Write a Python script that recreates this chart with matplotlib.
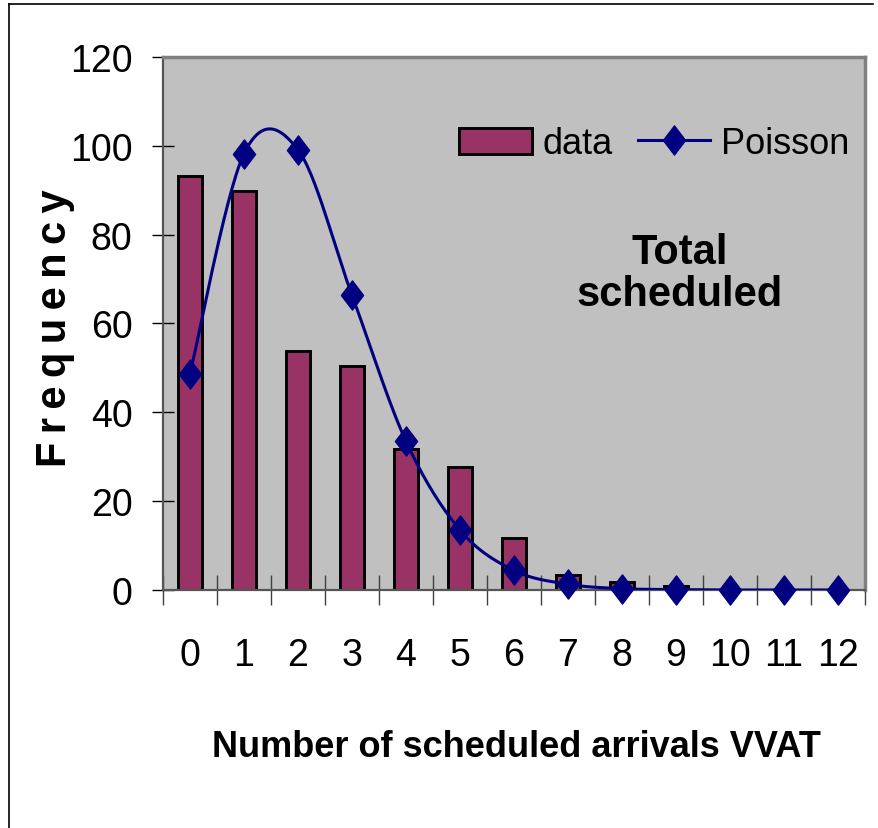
import matplotlib
matplotlib.use('Agg')

import matplotlib.pyplot as plt
import numpy as np
from matplotlib.lines import Line2D
from matplotlib.path import Path

# arrivals per interval, observed counts and fitted Poisson frequencies
arrivals = list(range(13))
data_freq = [93.3, 89.8, 53.8, 50.4, 31.8, 27.6, 11.7, 3.3, 1.8, 0.9, 0, 0, 0]
poisson_freq = [48.6, 98.2, 99.1, 66.4, 33.5, 13.5, 4.4, 1.3, 0.3, 0.1, 0, 0, 0]
y_ticks = [0, 20, 40, 60, 80, 100, 120]

NARROW = ['Liberation Sans Narrow', 'Liberation Sans', 'DejaVu Sans']
WIDE = ['Liberation Sans', 'DejaVu Sans']

BAR = '#993366'
LINE = '#000080'


def smooth(xs, ys, n=30):
    # piecewise cubic bezier through the points (catmull-rom style)
    xs = np.asarray(xs, float)
    ys = np.asarray(ys, float)
    px = np.concatenate([[xs[0]], xs, [xs[-1]]])
    py = np.concatenate([[ys[0]], ys, [ys[-1]]])
    outx, outy = [], []
    t = np.linspace(0, 1, n)
    for i in range(1, len(px) - 2):
        p0 = np.array([px[i], py[i]])
        p3 = np.array([px[i + 1], py[i + 1]])
        c1 = p0 + (np.array([px[i + 1], py[i + 1]]) - np.array([px[i - 1], py[i - 1]])) / 6
        c2 = p3 - (np.array([px[i + 2], py[i + 2]]) - np.array([px[i], py[i]])) / 6
        b = ((1 - t) ** 3)[:, None] * p0 + (3 * (1 - t) ** 2 * t)[:, None] * c1 \
            + (3 * (1 - t) * t ** 2)[:, None] * c2 + (t ** 3)[:, None] * p3
        outx.extend(b[:, 0])
        outy.extend(b[:, 1])
    return np.array(outx), np.array(outy)


diamond = Path([(0, 1), (0.76, 0), (0, -1), (-0.76, 0), (0, 1)],
               [Path.MOVETO, Path.LINETO, Path.LINETO, Path.LINETO, Path.CLOSEPOLY])

fig = plt.figure(figsize=(8.79, 8.29), dpi=100)
ax = fig.add_axes([0.1854, 0.2871, 0.7986, 0.6430])
ax.set_facecolor('#c0c0c0')

ax.bar(arrivals, data_freq, width=0.46, color=BAR, edgecolor='black',
       linewidth=2.1, label='data', zorder=2)

sx, sy = smooth(arrivals, poisson_freq)
ax.plot(sx, sy, color=LINE, lw=2.2, zorder=3)
ax.plot(arrivals, poisson_freq, ls='none', marker=diamond, ms=21,
        color=LINE, zorder=4, clip_on=False)
poisson_handle = Line2D([], [], color=LINE, lw=2.2, marker=diamond, ms=21)

ax.set_xlim(-0.5, 12.5)
ax.set_ylim(0, 120)
ax.set_yticks(y_ticks)
ax.set_xticks(arrivals)
ax.set_xticks(np.arange(-0.5, 13, 1), minor=True)
ax.tick_params(axis='x', which='major', length=0, pad=34)
ax.tick_params(axis='x', which='minor', direction='inout', length=22,
               width=1.0, color='#404040')
ax.tick_params(axis='y', direction='inout', length=16, width=1.0,
               color='black', pad=14)

for lab in ax.get_xticklabels() + ax.get_yticklabels():
    lab.set_family(NARROW)
    lab.set_fontsize(27)

for side in ('top', 'right'):
    ax.spines[side].set_color('#808080')
    ax.spines[side].set_linewidth(2.5)
ax.spines['left'].set_color('#555555')
ax.spines['left'].set_linewidth(1.6)
ax.spines['bottom'].set_color('#555555')
ax.spines['bottom'].set_linewidth(1.6)

handles = [ax.containers[0], poisson_handle]
leg = ax.legend(handles, ['data', 'Poisson'], loc='center',
                bbox_to_anchor=(0.70, 0.837), ncol=2, frameon=False,
                prop={'family': NARROW, 'size': 26}, handlelength=2.0,
                handleheight=0.75, handletextpad=0.3, columnspacing=0.7)

ax.text(0.736, 0.595, 'Total\nscheduled', transform=ax.transAxes,
        ha='center', va='center', fontsize=30, fontweight='bold',
        family=WIDE, linespacing=1.05)

fig.text(0.063, 1 - 328 / 829, '\u2009'.join('Frequency'), rotation=90,
         ha='center', va='center', fontsize=30, fontweight='bold', family=WIDE)
fig.text(516 / 879, 1 - 748 / 829, 'Number of scheduled arrivals VVAT',
         ha='center', va='center', fontsize=26, fontweight='bold', family=NARROW)

# outer frame, left and top edges
fig.add_artist(Line2D([9 / 879, 9 / 879], [0, 1 - 5 / 829],
                      transform=fig.transFigure, color='black', lw=1.2))
fig.add_artist(Line2D([9 / 879, 873 / 879], [1 - 5 / 829, 1 - 5 / 829],
                      transform=fig.transFigure, color='black', lw=1.2))

fig.savefig('out.png', dpi=100, facecolor='white')
